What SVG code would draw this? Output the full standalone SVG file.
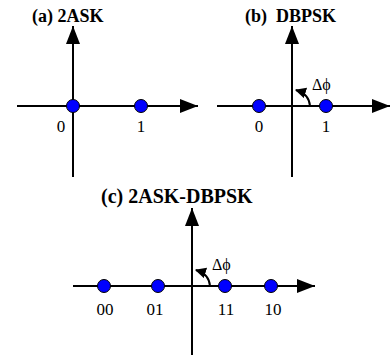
<svg xmlns="http://www.w3.org/2000/svg" width="391" height="357" viewBox="0 0 391 357" font-family="'Liberation Serif', 'Times New Roman', Times, serif">
<style>
.ax{stroke:#000;stroke-width:2;fill:none}
.arc{stroke:#000;stroke-width:2;fill:none}
.dot{fill:#0000ff;stroke:#000;stroke-width:1}
.t{font-size:17px;text-anchor:middle;fill:#000}
.ttl{font-size:18px;font-weight:bold;fill:#000}
.ttc{font-size:20px;font-weight:bold;fill:#000}
.df{font-size:16px;fill:#000}
</style>
<defs>
<marker id="ah" viewBox="0 0 18 14" refX="18" refY="7" markerWidth="18" markerHeight="14" markerUnits="userSpaceOnUse" orient="auto">
<path d="M0,0 L18,7 L0,14 Z" fill="#000"/>
</marker>
<marker id="sa" viewBox="0 0 10 10" refX="9" refY="5" markerWidth="11" markerHeight="11" markerUnits="userSpaceOnUse" orient="auto">
<path d="M0,0 L10,5 L0,10 Z" fill="#000"/>
</marker>
</defs>
<g id="connectors">
<line class="ax" x1="73" y1="177" x2="73" y2="26" marker-end="url(#ah)"/>
<line class="ax" x1="17" y1="106" x2="198" y2="106" marker-end="url(#ah)"/>
<line class="ax" x1="292" y1="177" x2="292" y2="26" marker-end="url(#ah)"/>
<line class="ax" x1="217" y1="106" x2="390" y2="106" marker-end="url(#ah)"/>
<path class="arc" d="M310,106 Q309,94 296,90" marker-end="url(#sa)"/>
<line class="ax" x1="192" y1="355" x2="192" y2="208" marker-end="url(#ah)"/>
<line class="ax" x1="73" y1="286" x2="315" y2="286" marker-end="url(#ah)"/>
<path class="arc" d="M210,286 Q209,274 196,270" marker-end="url(#sa)"/>
</g>
<g id="panel-a">
<text class="ttl" x="32" y="22">(a) 2ASK</text>
<circle class="dot" cx="73" cy="106" r="6.5"/>
<circle class="dot" cx="141" cy="106" r="6.5"/>
<text class="t" x="61" y="132">0</text>
<text class="t" x="141" y="132">1</text>
</g>
<g id="panel-b">
<text class="ttl" x="245" y="22" xml:space="preserve">(b)  DBPSK</text>
<circle class="dot" cx="259" cy="106" r="6.5"/>
<circle class="dot" cx="326" cy="106" r="6.5"/>
<text class="t" x="259" y="132">0</text>
<text class="t" x="326" y="132">1</text>
<text class="df" x="312" y="90">Δϕ</text>
</g>
<g id="panel-c">
<text class="ttc" x="101" y="203">(c) 2ASK-DBPSK</text>
<circle class="dot" cx="104" cy="286" r="6.5"/>
<circle class="dot" cx="158" cy="286" r="6.5"/>
<circle class="dot" cx="225" cy="286" r="6.5"/>
<circle class="dot" cx="271" cy="286" r="6.5"/>
<text class="t" x="105" y="315">00</text>
<text class="t" x="155" y="315">01</text>
<text class="t" x="226" y="315">11</text>
<text class="t" x="273" y="315">10</text>
<text class="df" x="212" y="270">Δϕ</text>
</g>
</svg>
